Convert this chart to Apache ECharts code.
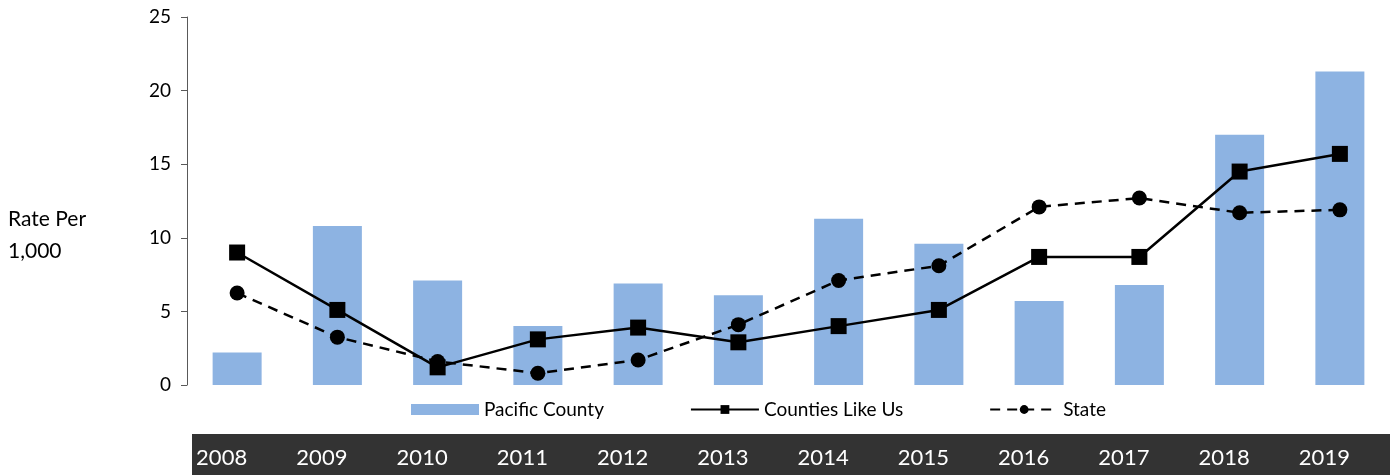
<!DOCTYPE html>
<html>
<head>
<meta charset="utf-8">
<script src="https://cdn.jsdelivr.net/npm/echarts@6/dist/echarts.min.js"></script>
<style>html,body{margin:0;padding:0;background:#fff}#c{width:1396px;height:475px}</style>
</head>
<body>
<div id="c"></div>
<script>
const years = ['2008','2009','2010','2011','2012','2013','2014','2015','2016','2017','2018','2019'];
const pacificCounty = [2.2, 10.8, 7.1, 4.0, 6.9, 6.1, 11.3, 9.6, 5.7, 6.8, 17.0, 21.3];
const countiesLikeUs = [9.0, 5.1, 1.2, 3.1, 3.9, 2.9, 4.0, 5.1, 8.7, 8.7, 14.5, 15.7];
const state = [6.25, 3.25, 1.6, 0.8, 1.7, 4.1, 7.1, 8.1, 12.1, 12.7, 11.7, 11.9];
const yTicks = [0, 5, 10, 15, 20, 25];

const FONT = 'Lato';
const chart = echarts.init(document.getElementById('c'));
chart.setOption({
  animation: false,
  backgroundColor: '#fff',
  textStyle: {fontFamily: FONT},
  grid: {left: 187, right: 6, top: 17, bottom: 90, containLabel: false},
  graphic: [
    {type: 'rect', z: 0, shape: {x: 192, y: 434, width: 1198, height: 41}, style: {fill: '#333333'}},
    {type: 'text', left: 8, top: 203, style: {text: 'Rate Per\n1,000', font: '21px Lato', fill: '#000', lineHeight: 32}}
  ],
  legend: {
    left: 406, top: 395, itemGap: 86, itemWidth: 68, itemHeight: 11,
    textStyle: {fontSize: 19, color: '#000', fontFamily: FONT},
    data: [
      {name: 'Pacific County', icon: 'rect'},
      {name: 'Counties Like Us'},
      {name: 'State'}
    ]
  },
  xAxis: {
    type: 'category', data: years,
    axisLine: {show: false}, axisTick: {show: false},
    axisLabel: {color: '#fff', fontSize: 22, margin: 62, padding: [0, 31, 0, 0], fontFamily: FONT}
  },
  yAxis: {
    type: 'value', min: yTicks[0], max: yTicks[yTicks.length - 1], interval: 5,
    splitLine: {show: false},
    axisLine: {show: true, lineStyle: {color: '#595959', width: 1}},
    axisTick: {show: true, inside: false, length: 6, lineStyle: {color: '#595959'}},
    axisLabel: {color: '#000', fontSize: 19, margin: 16, fontFamily: FONT}
  },
  series: [
    {name: 'Pacific County', type: 'bar', data: pacificCounty, barWidth: 49, itemStyle: {color: '#8DB3E2'}, z: 1},
    {name: 'Counties Like Us', type: 'line', data: countiesLikeUs, symbol: 'rect', symbolSize: 16,
      lineStyle: {color: '#000', width: 2.5}, itemStyle: {color: '#000'}, z: 3},
    {name: 'State', type: 'line', data: state, symbol: 'circle', symbolSize: 15,
      lineStyle: {color: '#000', width: 2.5, type: [10, 7]}, itemStyle: {color: '#000'}, z: 3}
  ]
});
</script>
</body>
</html>
